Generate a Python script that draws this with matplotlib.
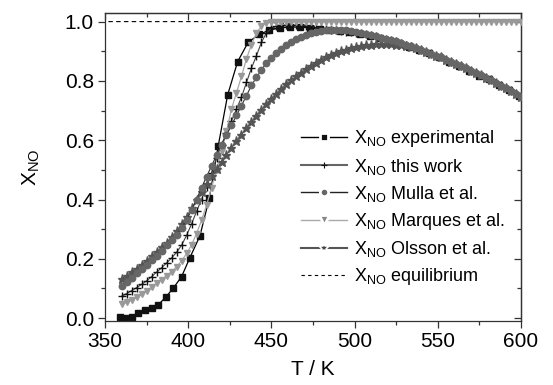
import numpy as np
import matplotlib
matplotlib.use("Agg")
import matplotlib.pyplot as plt
from matplotlib.lines import Line2D
from matplotlib.ticker import MultipleLocator

plt.rcParams['font.family'] = ['Liberation Sans', 'DejaVu Sans']
plt.rcParams['mathtext.default'] = 'regular'

# temperature grid of the model curves (K)
T_model = np.arange(360, 601, 3)

# experimental points
T_exp = [359, 362, 366, 370, 374, 378, 382, 386.5, 391, 396, 401, 407, 412.7, 418,
         423.7, 429.7, 436, 442.6, 448.7, 455, 461, 467, 473, 479, 485, 491, 497,
         503, 509, 515, 521, 527, 533, 539, 545, 551, 557, 563, 569, 575, 581, 587,
         593, 599]
X_exp = [0.005, 0.0, 0.005, 0.017, 0.026, 0.034, 0.045, 0.071, 0.101, 0.14, 0.204,
         0.277, 0.405, 0.58, 0.753, 0.865, 0.93, 0.957, 0.971, 0.979, 0.982, 0.981,
         0.979, 0.975, 0.972, 0.969, 0.965, 0.959, 0.952, 0.944, 0.936, 0.927, 0.916,
         0.905, 0.893, 0.880, 0.865, 0.850, 0.834, 0.818, 0.805, 0.787, 0.768, 0.748]

X_mulla = [0.110, 0.123, 0.137, 0.151, 0.165, 0.180, 0.195, 0.211, 0.228, 0.245,
           0.262, 0.282, 0.305, 0.332, 0.363, 0.400, 0.440, 0.477, 0.513, 0.549,
           0.585, 0.618, 0.651, 0.684, 0.717, 0.750, 0.785, 0.812, 0.837, 0.860,
           0.878, 0.894, 0.908, 0.920, 0.931, 0.940, 0.948, 0.955, 0.961, 0.966,
           0.969, 0.971, 0.972, 0.972, 0.971, 0.970, 0.968, 0.965, 0.962, 0.958,
           0.955, 0.951, 0.946, 0.941, 0.937, 0.933, 0.928, 0.922, 0.917, 0.911,
           0.905, 0.899, 0.892, 0.885, 0.879, 0.872, 0.865, 0.858, 0.850, 0.843,
           0.835, 0.827, 0.819, 0.811, 0.802, 0.793, 0.784, 0.775, 0.765, 0.755,
           0.745]

X_work = [0.074, 0.083, 0.093, 0.103, 0.114, 0.126, 0.140, 0.155, 0.170, 0.186,
          0.203, 0.222, 0.246, 0.279, 0.318, 0.360, 0.400, 0.443, 0.490, 0.540,
          0.585, 0.625, 0.665, 0.705, 0.745, 0.795, 0.843, 0.885, 0.930, 0.962,
          0.977, 0.984, 0.987, 0.988, 0.988, 0.987, 0.986, 0.984, 0.982, 0.980,
          0.977, 0.975, 0.972, 0.970, 0.968, 0.966, 0.964, 0.962, 0.961, 0.958,
          0.955, 0.951, 0.946, 0.941, 0.937, 0.933, 0.928, 0.922, 0.917, 0.911,
          0.905, 0.899, 0.892, 0.885, 0.879, 0.872, 0.865, 0.858, 0.850, 0.843,
          0.835, 0.827, 0.819, 0.811, 0.802, 0.793, 0.784, 0.775, 0.765, 0.755,
          0.745]

X_marques = [0.046, 0.053, 0.061, 0.070, 0.080, 0.092, 0.104, 0.117, 0.130, 0.143,
             0.157, 0.173, 0.193, 0.218, 0.247, 0.285, 0.330, 0.380, 0.440, 0.500,
             0.562, 0.630, 0.705, 0.760, 0.815, 0.875, 0.922, 0.961, 0.985, 0.995,
             0.998, 0.999, 1.0, 1.0, 1.0, 1.0, 1.0, 1.0, 1.0, 1.0,
             1.0, 1.0, 1.0, 1.0, 1.0, 1.0, 1.0, 1.0, 1.0, 1.0,
             1.0, 1.0, 1.0, 1.0, 1.0, 1.0, 1.0, 1.0, 1.0, 1.0,
             1.0, 1.0, 1.0, 1.0, 1.0, 1.0, 1.0, 1.0, 1.0, 1.0,
             1.0, 1.0, 1.0, 1.0, 1.0, 1.0, 1.0, 1.0, 1.0, 1.0,
             1.0]

X_olsson = [0.132, 0.143, 0.155, 0.167, 0.180, 0.194, 0.208, 0.223, 0.239, 0.255,
            0.273, 0.293, 0.316, 0.342, 0.370, 0.398, 0.425, 0.452, 0.478, 0.503,
            0.527, 0.551, 0.574, 0.597, 0.619, 0.641, 0.662, 0.683, 0.703, 0.722,
            0.740, 0.757, 0.773, 0.788, 0.802, 0.815, 0.828, 0.840, 0.851, 0.861,
            0.870, 0.879, 0.887, 0.894, 0.900, 0.905, 0.910, 0.914, 0.917, 0.920,
            0.922, 0.924, 0.925, 0.925, 0.924, 0.922, 0.920, 0.917, 0.914, 0.910,
            0.905, 0.899, 0.892, 0.885, 0.879, 0.872, 0.865, 0.858, 0.850, 0.843,
            0.835, 0.827, 0.819, 0.811, 0.802, 0.793, 0.784, 0.775, 0.765, 0.755,
            0.745]

T_eq = [352, 440, 445, 450, 460, 470, 480, 490, 500, 510, 520, 530, 540, 550,
        560, 570, 580, 590, 600]
X_eq = [1.0, 1.0, 0.999, 0.997, 0.993, 0.988, 0.982, 0.975, 0.967, 0.957, 0.943,
        0.927, 0.907, 0.885, 0.862, 0.837, 0.809, 0.779, 0.746]

labels = [r'$X_{NO}$ experimental', r'$X_{NO}$ this work', r'$X_{NO}$ Mulla et al.',
          r'$X_{NO}$ Marques et al.', r'$X_{NO}$ Olsson et al.', r'$X_{NO}$ equilibrium']

fig = plt.figure(figsize=(5.53, 3.85), dpi=100)
ax = fig.add_axes([0.190, 0.166, 0.752, 0.801])

ax.plot(T_eq, X_eq, color='k', ls='--', lw=0.8, dashes=(4, 3), zorder=1)
ax.plot(T_exp, X_exp, color='k', lw=0.9, marker='s', ms=4.3, mfc='#111111',
        mec='#111111', zorder=2)
ax.plot(T_model, X_work, color='#444444', lw=0.8, marker='+', ms=5.5, mec='#111111',
        mew=1.0, zorder=3)
ax.plot(T_model, X_marques, color='#aaaaaa', lw=0.9, marker='v', ms=5,
        mfc='#999999', mec='#999999', zorder=4)
ax.plot(T_model, X_olsson, color='#555555', lw=0.8, marker='*', ms=6.5,
        mfc='#555555', mec='#555555', zorder=5)
ax.plot(T_model, X_mulla, color='#333333', lw=0.8, marker='o', ms=4.6,
        mfc='#666666', mec='#666666', zorder=6)

ax.set_xlim(350, 600)
ax.set_ylim(-0.01, 1.03)
ax.xaxis.set_major_locator(MultipleLocator(50))
ax.xaxis.set_minor_locator(MultipleLocator(25))
ax.yaxis.set_major_locator(MultipleLocator(0.2))
ax.yaxis.set_minor_locator(MultipleLocator(0.1))
ax.set_yticks([0.0, 0.2, 0.4, 0.6, 0.8, 1.0])
ax.set_yticklabels(['0.0', '0.2', '0.4', '0.6', '0.8', '1.0'])

ax.tick_params(which='both', direction='out', top=False, right=False,
               labelsize=15, color='#333333', pad=3)
ax.tick_params(which='major', length=5, width=0.9)
ax.tick_params(which='minor', length=3, width=0.9)

# inward ticks on top and right
sec_x = ax.secondary_xaxis('top')
sec_x.xaxis.set_major_locator(MultipleLocator(50))
sec_x.xaxis.set_minor_locator(MultipleLocator(25))
sec_x.tick_params(which='both', direction='in', labeltop=False, color='#333333')
sec_x.tick_params(which='major', length=5, width=0.9)
sec_x.tick_params(which='minor', length=3, width=0.9)
sec_y = ax.secondary_yaxis('right')
sec_y.yaxis.set_major_locator(MultipleLocator(0.2))
sec_y.yaxis.set_minor_locator(MultipleLocator(0.1))
sec_y.tick_params(which='both', direction='in', labelright=False, color='#333333')
sec_y.tick_params(which='major', length=5, width=0.9)
sec_y.tick_params(which='minor', length=3, width=0.9)
for s in list(ax.spines.values()) + [sec_x.spines['top'], sec_y.spines['right']]:
    s.set_color('#333333')
    s.set_linewidth(0.9)

ax.set_xlabel('T / K', fontsize=15, labelpad=6)
ax.set_ylabel(r'$X_{NO}$', fontsize=15, labelpad=16)

# legend proxies with a small gap around the marker
handles = [
    Line2D([], [], color='k', lw=1.0, marker='s', ms=5.5, mfc='#111111', mec='white', mew=2),
    Line2D([], [], color='#666666', lw=1.5, marker='+', ms=5, mec='#111111', mew=0.8),
    Line2D([], [], color='#222222', lw=1.0, marker='o', ms=6, mfc='#666666', mec='white', mew=2),
    Line2D([], [], color='#aaaaaa', lw=1.0, marker='v', ms=6.5, mfc='#888888', mec='white', mew=2),
    Line2D([], [], color='#555555', lw=1.5, marker='*', ms=8, mfc='#444444', mec='white', mew=1.2),
    Line2D([], [], color='k', lw=0.8, ls='--', dashes=(3, 3)),
]
ax.legend(handles, labels, loc='upper left', bbox_to_anchor=(0.47, 0.625),
          frameon=False, fontsize=13, numpoints=1, handlelength=2.6,
          handletextpad=0.35, labelspacing=0.4, borderpad=0, borderaxespad=0)

fig.savefig('out.png', dpi=100)
